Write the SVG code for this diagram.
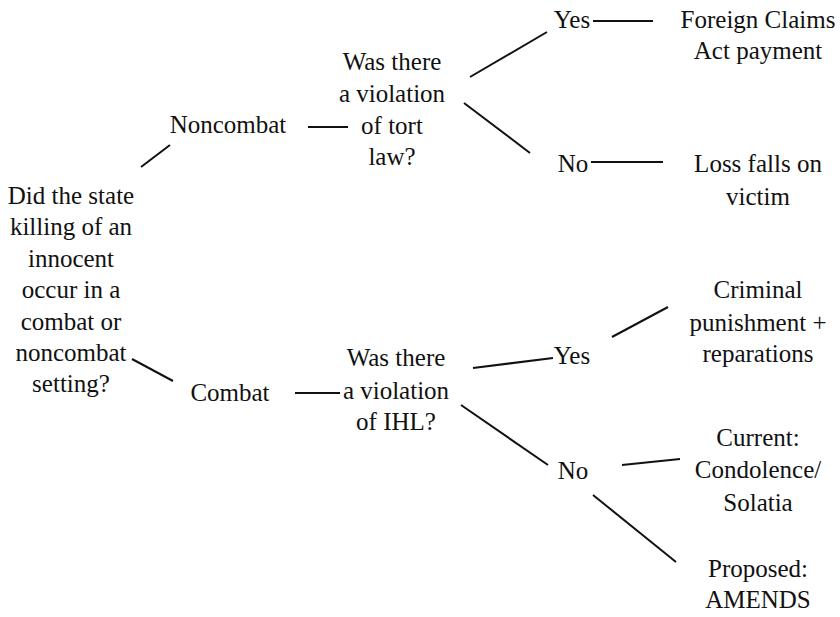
<svg xmlns="http://www.w3.org/2000/svg" width="840" height="617" viewBox="0 0 840 617">
<style>
text{font-family:'Liberation Serif','Tinos','Times New Roman','DejaVu Serif',serif;font-size:25px;fill:#111;text-anchor:middle}
.c line{stroke:#111;stroke-width:2;stroke-linecap:butt}
</style>
<rect width="840" height="617" fill="#fff"/>
<g class="c" id="connectors">
<line x1="141" y1="167" x2="170" y2="145"/>
<line x1="308" y1="127" x2="348" y2="127"/>
<line x1="470" y1="77" x2="547" y2="32"/>
<line x1="593" y1="21" x2="653" y2="21"/>
<line x1="464" y1="103" x2="530" y2="153"/>
<line x1="591" y1="162" x2="663" y2="162"/>
<line x1="132" y1="359" x2="173" y2="381"/>
<line x1="295" y1="393" x2="340" y2="393"/>
<line x1="473" y1="368" x2="553" y2="358"/>
<line x1="612" y1="337" x2="668" y2="307"/>
<line x1="461" y1="405" x2="548" y2="465"/>
<line x1="622" y1="465" x2="680" y2="459"/>
<line x1="593" y1="495" x2="676" y2="562"/>
</g>
<g id="root"><text x="71" y="204">Did the state</text><text x="71" y="235">killing of an</text><text x="71" y="267">innocent</text><text x="71" y="298">occur in a</text><text x="71" y="330">combat or</text><text x="71" y="361">noncombat</text><text x="71" y="392">setting?</text></g>
<g id="noncombat"><text x="228" y="133">Noncombat</text></g>
<g id="q1"><text x="392" y="70">Was there</text><text x="392" y="102">a violation</text><text x="392" y="134">of tort</text><text x="392" y="165">law?</text></g>
<g id="yes1"><text x="572" y="28">Yes</text></g>
<g id="fca"><text x="758" y="28">Foreign Claims</text><text x="758" y="59">Act payment</text></g>
<g id="no1"><text x="573" y="172">No</text></g>
<g id="loss"><text x="758" y="172">Loss falls on</text><text x="758" y="205">victim</text></g>
<g id="combat"><text x="230" y="401">Combat</text></g>
<g id="q2"><text x="396" y="366">Was there</text><text x="396" y="399">a violation</text><text x="396" y="430">of IHL?</text></g>
<g id="yes2"><text x="572" y="364">Yes</text></g>
<g id="criminal"><text x="758" y="298">Criminal</text><text x="758" y="331">punishment +</text><text x="758" y="362">reparations</text></g>
<g id="no2"><text x="573" y="479">No</text></g>
<g id="current"><text x="758" y="446">Current:</text><text x="758" y="478">Condolence/</text><text x="758" y="511">Solatia</text></g>
<g id="proposed"><text x="758" y="577">Proposed:</text><text x="758" y="608">AMENDS</text></g>
</svg>
